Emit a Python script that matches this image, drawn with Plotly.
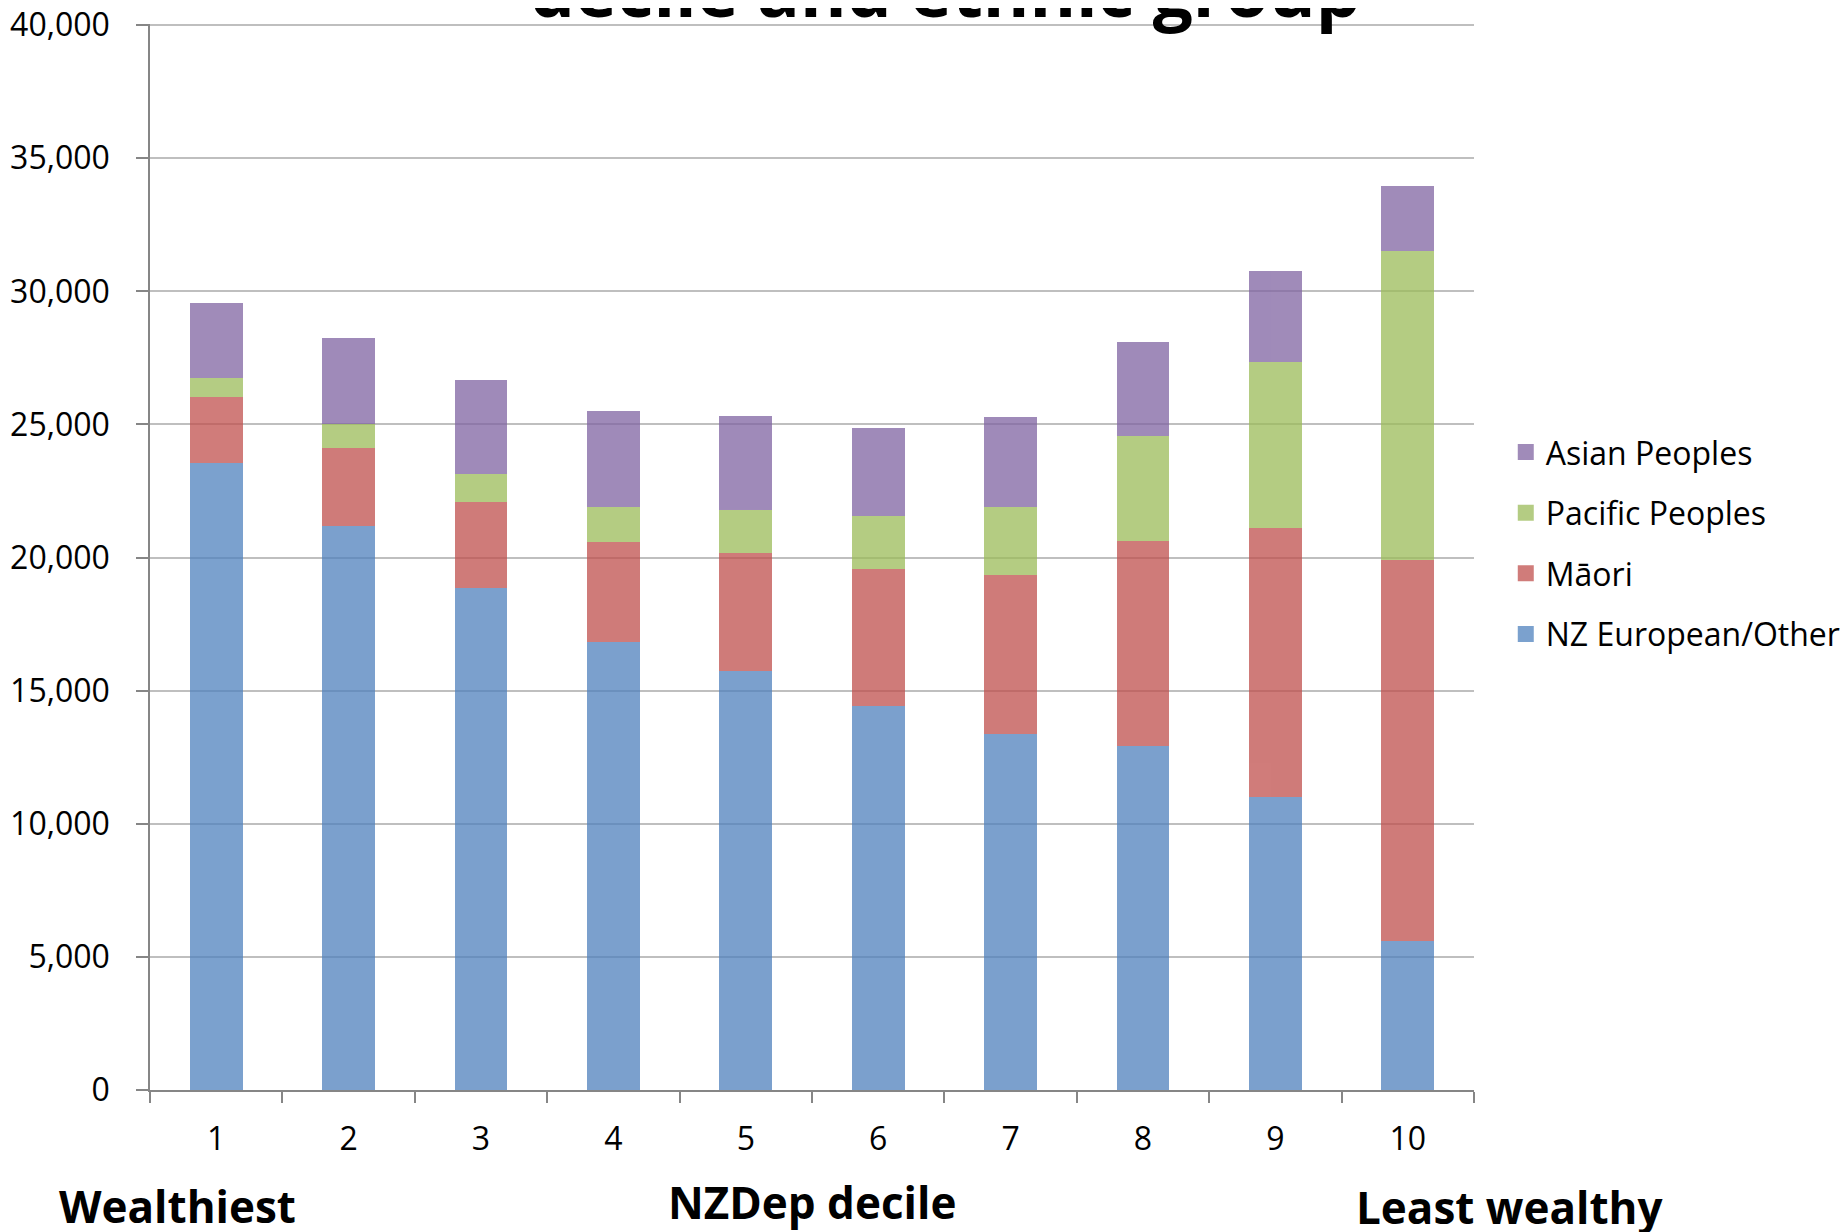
import plotly.graph_objects as go

deciles = ["1", "2", "3", "4", "5", "6", "7", "8", "9", "10"]
nz_european = [23540, 21190, 18850, 16810, 15750, 14420, 13360, 12920, 11020, 5580]
maori = [2480, 2930, 3230, 3770, 4430, 5140, 5980, 7700, 10090, 14330]
pacific = [710, 880, 1060, 1320, 1590, 1990, 2560, 3940, 6240, 11590]
asian = [2830, 3230, 3540, 3590, 3540, 3320, 3370, 3540, 3400, 2440]

series = [
    ("NZ European/Other", nz_european, "#4F81BD"),
    ("Māori", maori, "#C0504D"),
    ("Pacific Peoples", pacific, "#9BBB59"),
    ("Asian Peoples", asian, "#8064A2"),
]

FONT = "Open Sans"
fig = go.Figure()
for i, (name, vals, col) in enumerate(series):
    fig.add_trace(go.Bar(x=deciles, y=vals, name=name, marker=dict(color=col, line=dict(width=0)),
                         opacity=0.75, showlegend=False))
    fig.add_trace(go.Scatter(x=[None], y=[None], mode="markers", name=name, legendgroup=name,
                             legendrank=10 - i,
                             marker=dict(symbol="square", size=21, color=col, opacity=0.75)))

# page offset from the default body margin
OFF = 8
W, H = 1848, 1232
# plot area in page pixels: x 150..1474, y 24..1090
L = 150 - OFF
T = 24 - OFF
R = W - (1474 - OFF)
B = H - (1090 - OFF)
pw = W - L - R
ph = H - T - B
def px_x(x): return (x - OFF - L) / pw
def px_y(y): return (H - B - (y - OFF)) / ph

fig.update_layout(
    width=W, height=H,
    barmode="stack", bargap=0.6,
    plot_bgcolor="white", paper_bgcolor="white",
    margin=dict(l=L, r=R, t=T, b=B, autoexpand=False),
    font=dict(family=FONT, color="black", size=32),
    legend=dict(x=1.024, y=0.624, xanchor="left", yanchor="top", traceorder="grouped",
                tracegroupgap=16, font=dict(size=32, family=FONT), itemsizing="trace"),
    xaxis=dict(type="category", showline=True, linecolor="#868686", linewidth=1.5,
               ticks="outside", ticklen=11, tickcolor="#868686", tickwidth=1.5,
               tickson="boundaries", ticklabelstandoff=20, tickfont=dict(size=32),
               automargin=False, ticklabeloverflow="allow"),
    yaxis=dict(range=[0, 40040], dtick=5000, tickformat=",", showline=True, linecolor="#868686",
               linewidth=1.5, ticks="outside", ticklen=12, tickcolor="#868686", tickwidth=1.5,
               showgrid=True, gridcolor="#BFBFBF", gridwidth=1.5, zeroline=False,
               ticklabelstandoff=20, tickfont=dict(size=32), automargin=False,
               ticklabeloverflow="allow"),
    annotations=[
        dict(text="<b>decile and ethnic group</b>", xref="paper", yref="paper", x=px_x(945), y=1.0,
             xanchor="center", yanchor="bottom", yshift=-16, showarrow=False,
             font=dict(size=71, family=FONT)),
        dict(text="<b>Wealthiest</b>", xref="paper", yref="paper", x=px_x(177), y=px_y(1206),
             xanchor="center", yanchor="middle", showarrow=False, font=dict(size=44, family=FONT)),
        dict(text="<b>NZDep decile</b>", xref="paper", yref="paper", x=px_x(812), y=px_y(1202),
             xanchor="center", yanchor="middle", showarrow=False, font=dict(size=44, family=FONT)),
        dict(text="<b>Least wealthy</b>", xref="paper", yref="paper", x=px_x(1510), y=px_y(1207),
             xanchor="center", yanchor="middle", showarrow=False, font=dict(size=44, family=FONT)),
    ],
)

fig.write_html("out.html")
